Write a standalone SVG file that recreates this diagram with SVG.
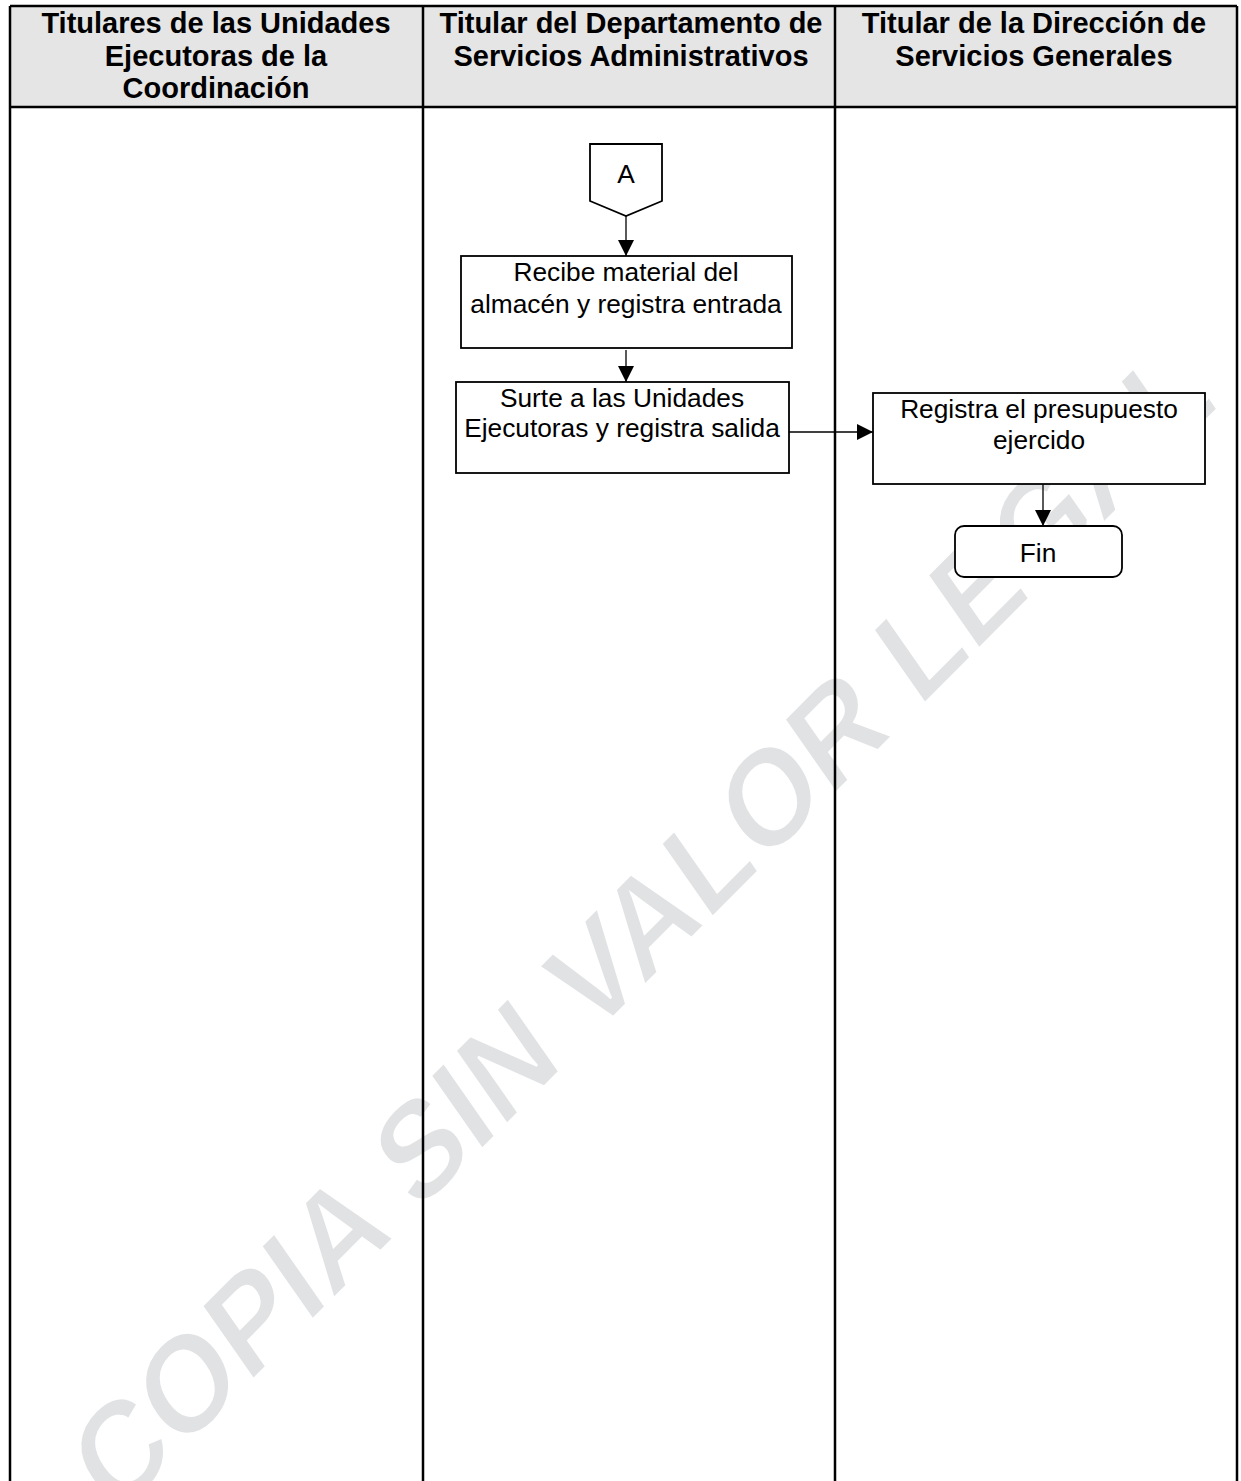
<svg xmlns="http://www.w3.org/2000/svg" width="1241" height="1481" viewBox="0 0 1241 1481">
<defs>
<style>
.hdr{font-family:"Liberation Sans",Arial,sans-serif;font-weight:bold;font-size:29px;fill:#000;text-anchor:middle}
.txt{font-family:"Liberation Sans",Arial,sans-serif;font-size:26.3px;fill:#000;text-anchor:middle}
.box{fill:#fff;stroke:#000;stroke-width:1.8}
.lane{stroke:#000;stroke-width:2.5;fill:none}
.conn{stroke:#000;stroke-width:1.3;fill:none}
.wm{font-family:"Liberation Sans",Arial,sans-serif;font-weight:bold;font-size:116px;fill:#e1e2e4;stroke:#fff;stroke-width:2}
</style>
<marker id="arr" viewBox="0 0 10 10" refX="10" refY="5" markerWidth="16" markerHeight="16" markerUnits="userSpaceOnUse" orient="auto">
<path d="M0,0 L10,5 L0,10 Z" fill="#000"/>
</marker>
</defs>
<rect x="0" y="0" width="1241" height="1481" fill="#fff"/>
<g id="watermark">
<text class="wm" x="-128" y="41" transform="translate(186,1383) scale(1,1.2) rotate(-40)">COPIA SIN VALOR LEGAL</text>
</g>
<g id="lanes">
<rect x="10" y="6" width="1227" height="101" fill="#e5e5e5" stroke="none"/>
<path class="lane" d="M10,6 H1237 M10,107 H1237 M10,6 V1481 M423,6 V1481 M835,6 V1481 M1237,6 V1481"/>
<text class="hdr" x="216" y="33">Titulares de las Unidades</text>
<text class="hdr" x="216" y="66">Ejecutoras de la</text>
<text class="hdr" x="216" y="98">Coordinación</text>
<text class="hdr" x="631" y="33">Titular del Departamento de</text>
<text class="hdr" x="631" y="66">Servicios Administrativos</text>
<text class="hdr" x="1034" y="33">Titular de la Dirección de</text>
<text class="hdr" x="1034" y="66">Servicios Generales</text>
</g>
<g id="connectors">
<line class="conn" x1="626" y1="216" x2="626" y2="256" marker-end="url(#arr)"/>
<line class="conn" x1="626" y1="350" x2="626" y2="382" marker-end="url(#arr)"/>
<line class="conn" x1="789" y1="432" x2="873" y2="432" marker-end="url(#arr)"/>
<line class="conn" x1="1043" y1="484" x2="1043" y2="526" marker-end="url(#arr)"/>
</g>
<g id="nodeA">
<path class="box" d="M590,144 H662 V201 L626,216 L590,201 Z"/>
<text class="txt" x="626" y="183">A</text>
</g>
<g id="node1">
<rect class="box" x="461" y="256" width="331" height="92"/>
<text class="txt" x="626" y="281">Recibe material del</text>
<text class="txt" x="626" y="313">almacén y registra entrada</text>
</g>
<g id="node2">
<rect class="box" x="456" y="382" width="333" height="91"/>
<text class="txt" x="622" y="407">Surte a las Unidades</text>
<text class="txt" x="622" y="437">Ejecutoras y registra salida</text>
</g>
<g id="node3">
<rect class="box" x="873" y="393" width="332" height="91"/>
<text class="txt" x="1039" y="418">Registra el presupuesto</text>
<text class="txt" x="1039" y="449">ejercido</text>
</g>
<g id="fin">
<rect class="box" x="955" y="526" width="167" height="51" rx="9" ry="9"/>
<text class="txt" x="1038" y="562">Fin</text>
</g>
</svg>
